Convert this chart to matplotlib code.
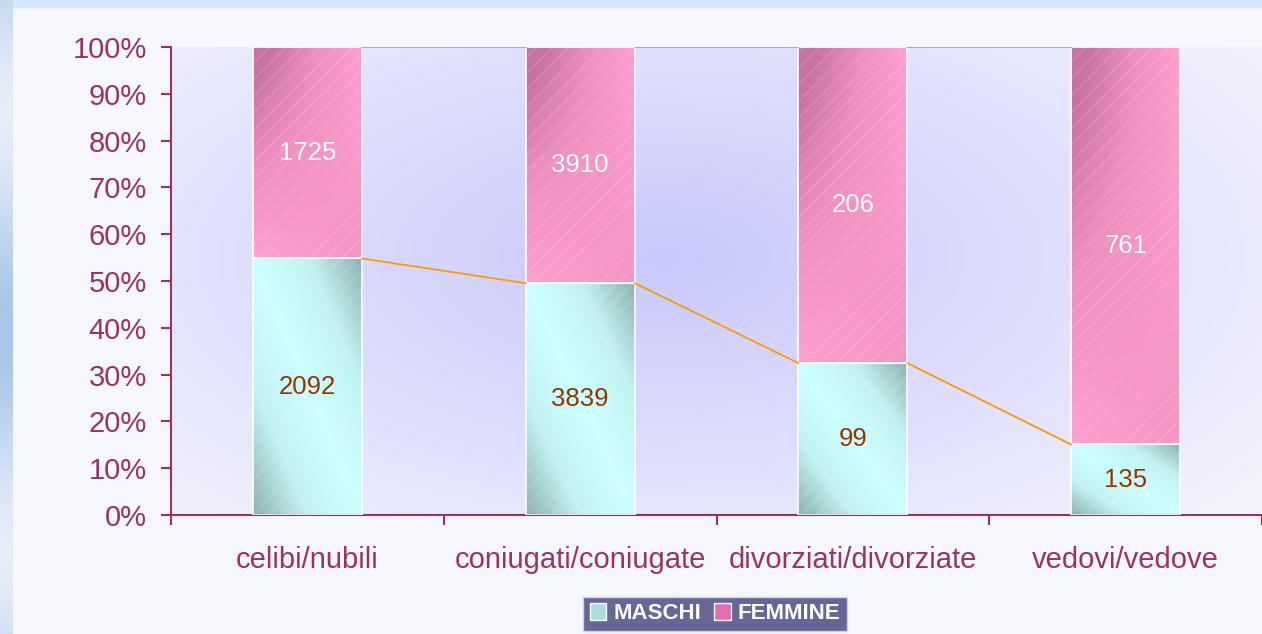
import numpy as np
import matplotlib
matplotlib.use('Agg')
import matplotlib.pyplot as plt
from matplotlib.colors import LinearSegmentedColormap
from matplotlib.patches import Rectangle, Patch

plt.rcParams['font.family'] = ['Liberation Sans', 'DejaVu Sans']

# dati
categorie = ['celibi/nubili', 'coniugati/coniugate', 'divorziati/divorziate', 'vedovi/vedove']
maschi = [2092, 3839, 99, 135]
femmine = [1725, 3910, 206, 761]
serie = ['MASCHI', 'FEMMINE']

tot = np.array(maschi) + np.array(femmine)
pct_m = np.array(maschi) / tot * 100
pct_f = np.array(femmine) / tot * 100

viola = '#993366'
arancio = '#ff9900'

fig = plt.figure(figsize=(12.62, 6.34), dpi=100)
fig.patch.set_facecolor('#f6f6fd')

# bande decorative di sfondo
fig.patches.append(Rectangle((0, 0.989), 1, 0.011, transform=fig.transFigure,
                             color='#d6e6fa', zorder=-5))
bg_left = fig.add_axes([0, 0, 0.0103, 1], zorder=-4)
bg_left.axis('off')
yy = np.linspace(0, 1, 200)[:, None]
bg_left.imshow(0.5 + 0.5 * np.sin(yy * 9.0), aspect='auto', extent=(0, 1, 0, 1),
               cmap=LinearSegmentedColormap.from_list('c', ['#a9c6e6', '#e4edf8']))

ax = fig.add_axes([0.1355, 0.1877, 0.8645, 0.7382])
ax.set_facecolor('none')

# gradiente radiale dell'area del grafico
gx, gy = np.meshgrid(np.linspace(0, 1, 300), np.linspace(0, 1, 200))
r = np.sqrt(((gx - 0.45) / 0.7) ** 2 + ((gy - 0.55) / 0.8) ** 2)
sfondo = LinearSegmentedColormap.from_list('s', ['#c8c8fb', '#f3f3fd'])
ax.imshow(np.clip(r, 0, 1), cmap=sfondo, aspect='auto', extent=(0, 1, 0, 1),
          transform=ax.transAxes, zorder=0, origin='lower')

x = np.arange(len(categorie))
larg = 0.4

cm_m = LinearSegmentedColormap.from_list('m', ['#ccffff', '#c2f2f2', '#8fb0b0'])
cm_f = LinearSegmentedColormap.from_list('f', ['#ff9fd0', '#ee8fc0', '#c8729f'])

bx, by = np.meshgrid(np.linspace(0, 1, 60), np.linspace(0, 1, 200))
grad_m = np.abs(bx + by - 1.0)
grad_f = np.clip(1.2 * (1 - bx) * by + 0.3 * (1 - by) * bx, 0, 1)

bars_m = ax.bar(x, pct_m, larg, color='none', edgecolor='white', linewidth=1.2, zorder=3)
bars_f = ax.bar(x, pct_f, larg, bottom=pct_m, color='none', edgecolor='white', linewidth=1.2, zorder=3)

for bars, cmap, g in [(bars_m, cm_m, grad_m), (bars_f, cm_f, grad_f)]:
    for b in bars:
        im = ax.imshow(g, cmap=cmap, aspect='auto', origin='lower', zorder=2,
                       extent=(b.get_x(), b.get_x() + b.get_width(),
                               b.get_y(), b.get_y() + b.get_height()))
        im.set_clip_path(b)
        ax.add_patch(Rectangle((b.get_x(), b.get_y()), b.get_width(), b.get_height(),
                               fill=False, hatch='//', edgecolor=(1, 1, 1, 0.14),
                               linewidth=0, zorder=2.5))

# linee di serie
for i in range(len(x) - 1):
    x0 = x[i] + larg / 2
    x1 = x[i + 1] - larg / 2
    ax.plot([x0, x1], [pct_m[i], pct_m[i + 1]], color=arancio, lw=1.3, zorder=4)
    ax.plot([x0, x1], [100, 100], color=arancio, lw=1.3, zorder=4)

# etichette dati
for i in range(len(x)):
    ax.text(x[i], pct_m[i] / 2, str(maschi[i]), ha='center', va='center',
            fontsize=18.5, color='#993300', zorder=5)
    ax.text(x[i], pct_m[i] + pct_f[i] / 2, str(femmine[i]), ha='center', va='center',
            fontsize=18.5, color='white', zorder=5)

ax.set_xlim(-0.5, 3.5)
ax.set_ylim(0, 100)
ax.set_yticks(np.arange(0, 101, 10))
ax.set_yticklabels([f'{v}%' for v in range(0, 101, 10)])
ax.set_xticks(x)
ax.set_xticklabels(categorie)
ax.set_xticks(np.arange(-0.5, 4, 1), minor=True)

for s in ['top', 'right']:
    ax.spines[s].set_visible(False)
for s in ['left', 'bottom']:
    ax.spines[s].set_color(viola)
    ax.spines[s].set_linewidth(1.5)

ax.tick_params(axis='y', colors=viola, labelsize=21, length=7.5, width=1.5, pad=10)
ax.tick_params(axis='x', which='major', colors=viola, labelsize=21, length=0, pad=22)
ax.tick_params(axis='x', which='minor', colors=viola, length=7.5, width=1.5)

h = [Patch(facecolor='#a8dede', edgecolor='white', label=serie[0]),
     Patch(facecolor='#e070b0', edgecolor='white', label=serie[1])]
leg = fig.legend(handles=h, loc='center', bbox_to_anchor=(0.5665, 0.032), ncol=2,
                 frameon=True, fancybox=False, facecolor='#666699', edgecolor='#d0d0e8',
                 framealpha=1, handlelength=0.75, handleheight=0.75, handletextpad=0.3,
                 columnspacing=0.6, borderpad=0.3, prop={'weight': 'bold', 'size': 16})
for t in leg.get_texts():
    t.set_color('white')

fig.savefig('out.png', dpi=100, facecolor=fig.get_facecolor())
